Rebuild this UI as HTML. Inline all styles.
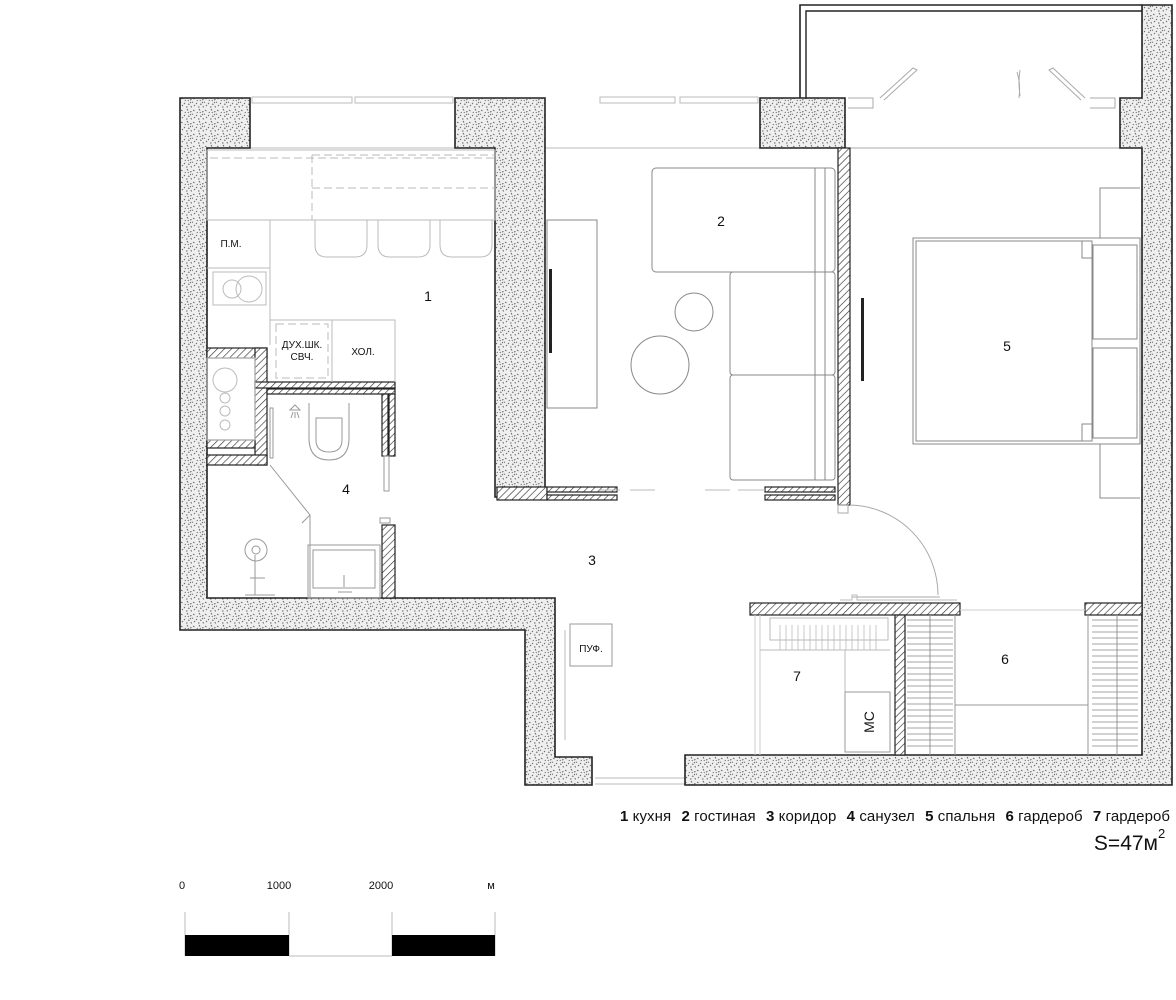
<!DOCTYPE html>
<html><head><meta charset="utf-8"><style>
html,body{margin:0;padding:0;background:#fff}
svg{display:block}
text{font-family:"Liberation Sans",Arial,sans-serif;fill:#111}
</style></head><body>
<svg width="1176" height="1000" viewBox="0 0 1176 1000" xmlns="http://www.w3.org/2000/svg">
<defs>
<pattern id="st" width="12" height="12" patternUnits="userSpaceOnUse">
<rect width="12" height="12" fill="#efefef"/>
<g stroke="#666" stroke-width="1">
<path d="M1 2l1.5 1M7 1l1 1.5M10 4l1.5-.5M4 7l1 1M8 8l1.5.5M2 10l1-1M11 10l.5 1.5M6 11l1.5 0M11 6l-1 1M5 4l.5 1M0 6l1 .5M8 5l.5-1"/>
</g></pattern>
<pattern id="ht" width="5" height="5" patternUnits="userSpaceOnUse" patternTransform="rotate(45)">
<rect width="5" height="5" fill="#fff"/><line x1="0" y1="0" x2="0" y2="5" stroke="#333" stroke-width="1.3"/>
</pattern>
</defs>

<!-- balcony -->
<path d="M800 98V5H1142" fill="none" stroke="#222" stroke-width="1.6"/>
<path d="M806 98V11H1142" fill="none" stroke="#222" stroke-width="1.4"/>
<g fill="none" stroke="#aaa" stroke-width="1">
<path d="M848 98h25v10h-25M1090 98h25v10h-25"/>
<path d="M880 98l33-30 4 2-33 30M1085 98l-32-30-4 2 32 30"/>
<path d="M1017 72q4 12 2 26M1020 70q-2 12 0 26"/>
<line x1="845" y1="148" x2="1120" y2="148"/>
</g>

<!-- windows -->
<g fill="none" stroke="#bbb" stroke-width="1">
<rect x="252" y="97" width="100" height="6"/><rect x="355" y="97" width="98" height="6"/>
<rect x="600" y="97" width="75" height="6"/><rect x="680" y="97" width="78" height="6"/>
<line x1="250" y1="148" x2="455" y2="148"/><line x1="545" y1="148" x2="760" y2="148"/>
<line x1="595" y1="778" x2="685" y2="778"/><line x1="595" y1="784" x2="685" y2="784"/>
</g>

<!-- stipple walls -->
<g fill="url(#st)" stroke="#222" stroke-width="1.6">
<path d="M180 98H250V148H207V598H555V757H592V785H525V630H180Z"/>
<path d="M455 98H545V497H495V148H455Z"/>
<path d="M760 98H845V148H760Z"/>
<path d="M1120 98H1142V5H1172V785H685V755H1142V148H1120Z"/>
</g>

<!-- hatched walls -->
<g fill="url(#ht)" stroke="#222" stroke-width="1.2">
<rect x="838" y="148" width="12" height="357"/>
<rect x="497" y="487" width="50" height="13"/>
<rect x="547" y="487" width="70" height="5"/><rect x="547" y="495" width="70" height="5"/>
<rect x="765" y="487" width="70" height="5"/><rect x="765" y="495" width="70" height="5"/>
<rect x="207" y="348" width="60" height="10"/>
<rect x="255" y="348" width="12" height="117"/>
<rect x="207" y="440" width="48" height="8"/>
<rect x="207" y="455" width="60" height="10"/>
<rect x="255" y="382" width="140" height="6"/><rect x="267" y="389" width="128" height="5"/>
<rect x="382" y="394" width="6" height="62"/><rect x="389" y="394" width="6" height="62"/>
<rect x="382" y="525" width="13" height="73"/>
<rect x="750" y="603" width="210" height="12"/>
<rect x="1085" y="603" width="57" height="12"/>
<rect x="895" y="615" width="10" height="140"/>
</g>

<!-- kitchen furniture -->
<g fill="none" stroke="#bbb" stroke-width="1">
<rect x="207" y="150" width="288" height="70"/>
<path d="M312 155V220M312 155H495M210 158H495M312 188H495" stroke-dasharray="8 4"/>
<path d="M315 220v25q0 12 12 12h28q12 0 12-12v-25M378 220v25q0 12 12 12h28q12 0 12-12v-25M440 220v25q0 12 12 12h28q12 0 12-12v-25"/>
<path d="M207 220h63v125M207 268h63"/>
<rect x="213" y="272" width="53" height="33"/>
<circle cx="232" cy="289" r="9"/><circle cx="249" cy="289" r="13"/>
<path d="M270 320h125v62M332 320v62"/>
<rect x="276" y="324" width="52" height="54" stroke-dasharray="8 4"/>
<circle cx="225" cy="380" r="12"/><circle cx="225" cy="398" r="5"/><circle cx="225" cy="411" r="5"/><circle cx="225" cy="425" r="5"/>
<rect x="207" y="358" width="48" height="82"/>
</g>
<text x="231" y="247" font-size="10" text-anchor="middle">П.М.</text>
<text x="302" y="348" font-size="10" text-anchor="middle">ДУХ.ШК.</text>
<text x="302" y="360" font-size="10" text-anchor="middle">СВЧ.</text>
<text x="363" y="355" font-size="10" text-anchor="middle">ХОЛ.</text>

<!-- bathroom fixtures -->
<g fill="none" stroke="#999" stroke-width="1">
<path d="M309 403v35q0 22 20 22t20-22v-35"/>
<path d="M316 418h26v22q0 12-13 12t-13-12z"/>
<path d="M290 410l5-5 5 5zM293 412l-2 6M295 412v6M297 412l2 6"/>
<rect x="270" y="408" width="3" height="50"/>
<path d="M270 465l40 50-8 8M310 515v83"/>
<rect x="384" y="456" width="5" height="35"/>
<rect x="308" y="545" width="72" height="53"/><rect x="313" y="550" width="62" height="38"/>
<path d="M344 575v12M338 592h14"/>
<circle cx="256" cy="550" r="11"/><circle cx="256" cy="550" r="4"/>
<path d="M255 555v40M250 578h15M245 595h30"/>
<rect x="380" y="518" width="10" height="5"/>
</g>

<!-- living room -->
<g fill="none" stroke="#888" stroke-width="1">
<rect x="652" y="168" width="183" height="104" rx="4"/>
<rect x="730" y="272" width="105" height="103" rx="3"/>
<rect x="730" y="375" width="105" height="105" rx="3"/>
<path d="M815 168v312M825 168v312"/>
<circle cx="694" cy="312" r="19"/>
<circle cx="660" cy="365" r="29"/>
<rect x="547" y="220" width="50" height="188"/>
<path d="M600 490h20M630 490h25M705 490h25M738 490h27" stroke="#bbb"/>
</g>
<rect x="549" y="269" width="3" height="84" fill="#222"/>
<rect x="861" y="298" width="3" height="83" fill="#222"/>

<!-- bedroom -->
<g fill="none" stroke="#888" stroke-width="1">
<rect x="913" y="238" width="227" height="206"/>
<rect x="916" y="241" width="176" height="200"/>
<rect x="1093" y="245" width="44" height="94"/>
<rect x="1093" y="348" width="44" height="90"/>
<path d="M1100 238V188h40M1100 444v54h40"/>
<path d="M1082 241v17h11M1082 441v-17h11"/>
<path d="M850 505a90 90 0 0 1 88 90M852 597h88" stroke="#aaa"/>
<rect x="838" y="505" width="10" height="8" stroke="#aaa"/>
</g>

<!-- closets -->
<g fill="none" stroke="#999" stroke-width="1">
<rect x="570" y="624" width="42" height="42"/>
<path d="M565 630v110" stroke="#bbb"/>
<path d="M755 615v140M760 615v140" stroke="#ccc"/>
<rect x="770" y="618" width="118" height="22" stroke="#bbb"/>
<path d="M760 650h130M845 650v42" stroke="#bbb"/>
<rect x="845" y="692" width="45" height="60"/>
<path d="M955 615v140M1088 615v140M955 705h133M930 615v140M1117 615v140"/>
<path d="M840 600h12v-5h5v5h100" stroke="#bbb"/>
<path d="M960 610h125" stroke="#ccc"/>
</g>
<g stroke="#888" stroke-width="0.8">
<path d="M907 620h46M907 626h46M907 632h46M907 638h46M907 644h46M907 650h46M907 656h46M907 662h46M907 668h46M907 674h46M907 680h46M907 686h46M907 692h46M907 698h46M907 704h46M907 710h46M907 716h46M907 722h46M907 728h46M907 734h46M907 740h46M907 746h46"/>
<path d="M1092 620h46M1092 626h46M1092 632h46M1092 638h46M1092 644h46M1092 650h46M1092 656h46M1092 662h46M1092 668h46M1092 674h46M1092 680h46M1092 686h46M1092 692h46M1092 698h46M1092 704h46M1092 710h46M1092 716h46M1092 722h46M1092 728h46M1092 734h46M1092 740h46M1092 746h46"/>
<path d="M780 625v25M786 625v25M792 625v25M798 625v25M804 625v25M810 625v25M816 625v25M822 625v25M828 625v25M834 625v25M840 625v25M846 625v25M852 625v25M858 625v25M864 625v25M870 625v25M876 625v25" stroke="#bbb"/>
</g>

<!-- labels -->
<g font-size="14" text-anchor="middle">
<text x="428" y="301">1</text><text x="721" y="226">2</text><text x="592" y="565">3</text>
<text x="346" y="494">4</text><text x="1007" y="351">5</text><text x="1005" y="664">6</text><text x="797" y="681">7</text>
</g>
<text x="591" y="652" font-size="10" text-anchor="middle">ПУФ.</text>
<text transform="translate(874 722) rotate(-90)" font-size="14" text-anchor="middle">МС</text>

<!-- legend -->
<text x="620" y="821" font-size="15" textLength="550" lengthAdjust="spacing"><tspan font-weight="bold">1</tspan> кухня  <tspan font-weight="bold" dx="6">2</tspan> гостиная  <tspan font-weight="bold" dx="6">3</tspan> коридор  <tspan font-weight="bold" dx="6">4</tspan> санузел  <tspan font-weight="bold" dx="6">5</tspan> спальня  <tspan font-weight="bold" dx="6">6</tspan> гардероб  <tspan font-weight="bold" dx="6">7</tspan>  гардероб</text>
<text x="1158" y="850" font-size="21" text-anchor="end">S=47м</text>
<text x="1158" y="838" font-size="13">2</text>

<!-- scale -->
<g font-size="11" text-anchor="middle">
<text x="182" y="889">0</text><text x="279" y="889">1000</text><text x="381" y="889">2000</text><text x="491" y="889">м</text>
</g>
<g stroke="#bbb" stroke-width="1"><path d="M185 912v44M289 912v44M392 912v44M495 912v44M289 956h103"/></g>
<rect x="185" y="935" width="104" height="21" fill="#000"/>
<rect x="392" y="935" width="103" height="21" fill="#000"/>
</svg>
</body></html>
